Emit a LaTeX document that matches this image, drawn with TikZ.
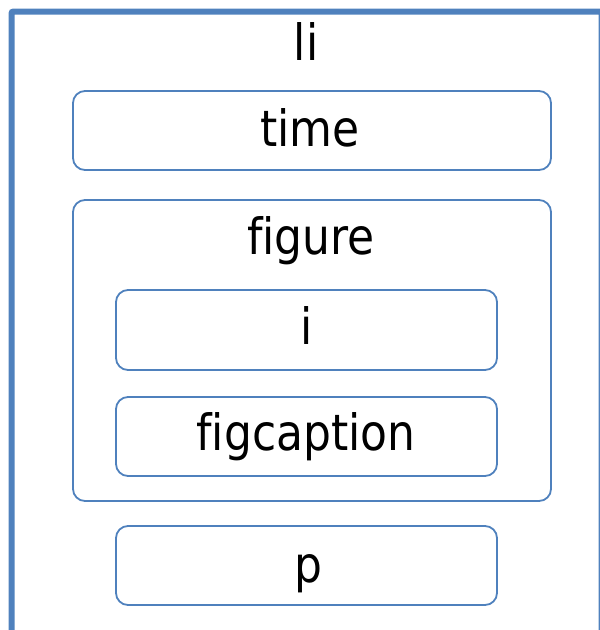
\documentclass[tikz,border=0pt]{standalone}
\usepackage{fontspec}
\setmainfont{DejaVu Sans}[FakeStretch=0.88, Ligatures=NoCommon]
\definecolor{boxblue}{HTML}{4F81BD}
\begin{document}
\begin{tikzpicture}[x=1pt,y=-1pt,
  box/.style={draw=boxblue, line width=1.8pt, rounded corners=12pt, inner sep=0pt, rectangle},
  lbl/.style={anchor=base, inner sep=0pt, font=\fontsize{50}{60}\selectfont}]
\useasboundingbox (0,0) rectangle (600,630);
\clip (0,0) rectangle (600,630);
\draw[boxblue, line width=6pt, rounded corners=2pt] (11.5,11.5) rectangle (601.5,680);
\node[box, minimum width=478pt, minimum height=79pt] (timebox) at (312,130.5) {};
\node[box, minimum width=478pt, minimum height=301pt] (figbox) at (312,350.5) {};
\node[box, minimum width=381pt, minimum height=80pt] (ibox) at (306.5,330) {};
\node[box, minimum width=381pt, minimum height=79pt] (capbox) at (306.5,436.5) {};
\node[box, minimum width=381pt, minimum height=79pt] (pbox) at (306.5,565.5) {};
\node[lbl] (li) at (306,60) {li};
\node[lbl] (time) at (310,146) {time};
\node[lbl] (figure) at (311,254) {figure};
\node[lbl] (i) at (306.5,344) {i};
\node[lbl] (figcaption) at (306,450) {figcaption};
\node[lbl] (p) at (308,582) {p};
\end{tikzpicture}
\end{document}
